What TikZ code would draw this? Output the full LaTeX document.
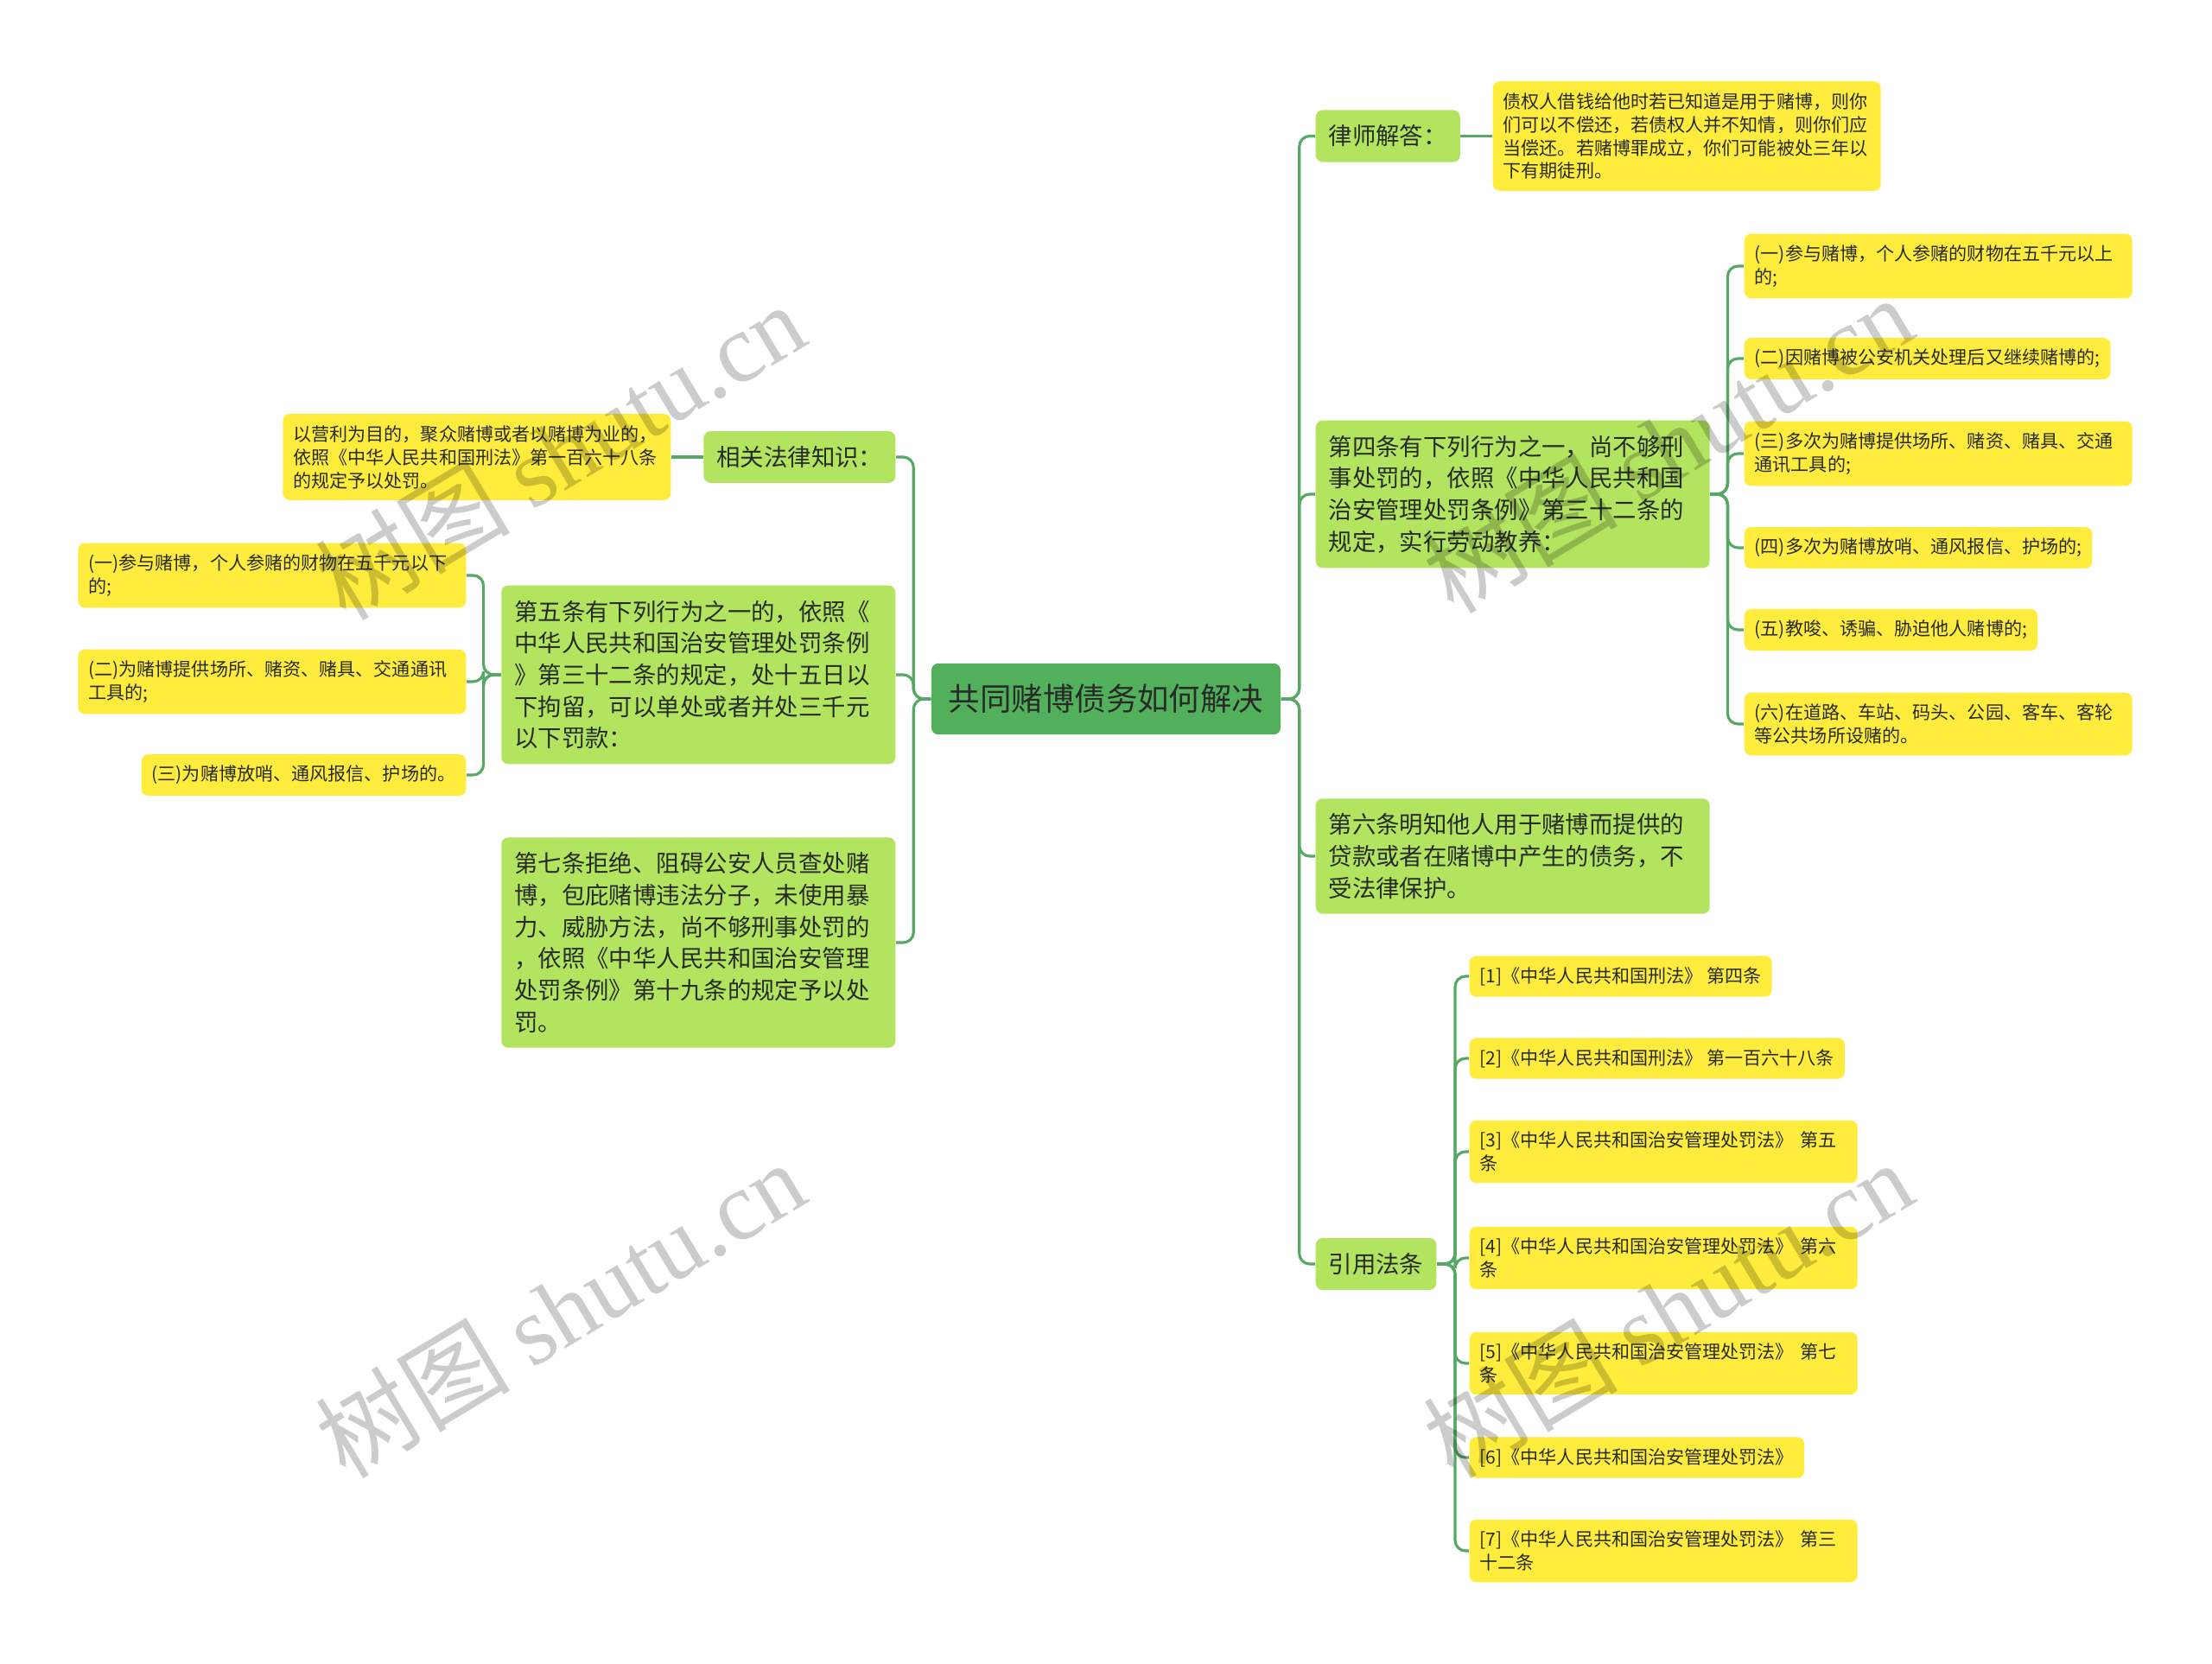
\documentclass[tikz,border=0pt]{standalone}
\usepackage{fontspec}
\setmainfont{Noto Sans CJK SC}
\newfontfamily\wmlatin{Liberation Serif}
\usepackage{tikz}
\usetikzlibrary{positioning}

\definecolor{linegreen}{RGB}{86,168,100}
\definecolor{rootgreen}{RGB}{82,176,92}
\definecolor{leafgreen}{RGB}{178,228,96}
\definecolor{noteyellow}{RGB}{255,236,60}
\definecolor{inkgray}{RGB}{40,44,40}

\tikzset{
  rootbox/.style={fill=rootgreen, rounded corners=0.08cm, text=inkgray,
    inner xsep=0.2cm, inner ysep=0.243cm, font=\fontsize{10.36}{12}\selectfont},
  leafbox/.style={fill=leafgreen, rounded corners=0.08cm, text=inkgray, align=left,
    inner xsep=0.15cm, inner ysep=0.173cm, font=\fontsize{7.8}{10.44}\selectfont},
  longleaf/.style={leafbox, text width=4.26cm},
  notebox/.style={fill=noteyellow, rounded corners=0.08cm, text=inkgray, align=left,
    inner xsep=0.12cm, inner ysep=0.13cm, font=\fontsize{6}{7.68}\selectfont},
  longnote/.style={notebox, text width=4.25cm},
  link/.style={draw=linegreen, line width=0.9pt, rounded corners=0.12cm},
  watermark/.style={text=black, opacity=0.2, rotate=31, font=\fontsize{32}{36}\selectfont}
}

\begin{document}
\begin{tikzpicture}
  \fill[white] (0,0) rectangle (25.6,-19.26);
  \useasboundingbox (0,0) rectangle (25.6,-19.26);

  \node[rootbox] (root) at (12.80,-8.09) {共同赌博债务如何解决};

  % left half
  \node[leafbox, anchor=east] (rel) at (10.37,-5.29) {相关法律知识：};
  \node[longnote, anchor=east] (profit) at (7.77,-5.29) {以营利为目的，聚众赌博或者以赌博为业的，\\依照《中华人民共和国刑法》第一百六十八条\\的规定予以处罚。};
  \node[longleaf, anchor=east] (art5) at (10.37,-7.81) {第五条有下列行为之一的，依照《\\中华人民共和国治安管理处罚条例\\》第三十二条的规定，处十五日以\\下拘留，可以单处或者并处三千元\\以下罚款：};
  \node[longleaf, anchor=east] (art7) at (10.37,-10.91) {第七条拒绝、阻碍公安人员查处赌\\博，包庇赌博违法分子，未使用暴\\力、威胁方法，尚不够刑事处罚的\\，依照《中华人民共和国治安管理\\处罚条例》第十九条的规定予以处\\罚。};

  \draw[link] (root.west) -- ++(-0.2,0) |- (rel.east);
  \draw[link] (root.west) -- ++(-0.2,0) |- (art5.east);
  \draw[link] (root.west) -- ++(-0.2,0) |- (art7.east);
  \draw[link] (rel.west) -- (profit.east);

  \foreach \y/\sty/\txt [count=\i] in {
      6.66/longnote/{(一)参与赌博，个人参赌的财物在五千元以下\\的;},
      7.89/longnote/{(二)为赌博提供场所、赌资、赌具、交通通讯\\工具的;},
      8.97/notebox/{(三)为赌博放哨、通风报信、护场的。}}{
    \node[\sty, anchor=east] (art5k\i) at (5.40,-\y) {\txt};
    \draw[link] (art5.west) -- ++(-0.2,0) |- (art5k\i.east);
  }

  % right half
  \node[leafbox, anchor=west] (lawyer) at (15.22,-1.575) {律师解答：};
  \node[longnote, anchor=west] (answer) at (17.27,-1.575) {债权人借钱给他时若已知道是用于赌博，则你\\们可以不偿还，若债权人并不知情，则你们应\\当偿还。若赌博罪成立，你们可能被处三年以\\下有期徒刑。};
  \node[longleaf, anchor=west] (art4) at (15.22,-5.72) {第四条有下列行为之一，尚不够刑\\事处罚的，依照《中华人民共和国\\治安管理处罚条例》第三十二条的\\规定，实行劳动教养：};
  \node[longleaf, anchor=west] (art6) at (15.22,-9.91) {第六条明知他人用于赌博而提供的\\贷款或者在赌博中产生的债务，不\\受法律保护。};
  \node[leafbox, anchor=west] (cite) at (15.22,-14.63) {引用法条};

  \foreach \n in {lawyer,art4,art6,cite}
    \draw[link] (root.east) -- ++(0.21,0) |- (\n.west);
  \draw[link] (lawyer.east) -- (answer.west);

  \foreach \y/\sty/\txt [count=\i] in {
      3.08/longnote/{(一)参与赌博，个人参赌的财物在五千元以上\\的;},
      4.15/notebox/{(二)因赌博被公安机关处理后又继续赌博的;},
      5.25/longnote/{(三)多次为赌博提供场所、赌资、赌具、交通\\通讯工具的;},
      6.34/notebox/{(四)多次为赌博放哨、通风报信、护场的;},
      7.29/notebox/{(五)教唆、诱骗、胁迫他人赌博的;},
      8.38/longnote/{(六)在道路、车站、码头、公园、客车、客轮\\等公共场所设赌的。}}{
    \node[\sty, anchor=west] (art4k\i) at (20.18,-\y) {\txt};
    \draw[link] (art4.east) -- ++(0.2,0) |- (art4k\i.west);
  }

  \foreach \y/\sty/\txt [count=\i] in {
      11.30/notebox/{[1]《中华人民共和国刑法》 第四条},
      12.25/notebox/{[2]《中华人民共和国刑法》 第一百六十八条},
      13.33/longnote/{[3]《中华人民共和国治安管理处罚法》 第五\\条},
      14.56/longnote/{[4]《中华人民共和国治安管理处罚法》 第六\\条},
      15.78/longnote/{[5]《中华人民共和国治安管理处罚法》 第七\\条},
      16.87/notebox/{[6]《中华人民共和国治安管理处罚法》},
      17.95/longnote/{[7]《中华人民共和国治安管理处罚法》 第三\\十二条}}{
    \node[\sty, anchor=west] (ref\i) at (17.00,-\y) {\txt};
    \draw[link] (cite.east) -- ++(0.21,0) |- (ref\i.west);
  }

  % watermarks
  \foreach \x/\y in {6.48/5.22, 6.48/15.15, 19.30/5.14, 19.30/15.15}
    \node[watermark] (wm) at (\x,-\y) {树图 {\wmlatin shutu.cn}};
\end{tikzpicture}
\end{document}
